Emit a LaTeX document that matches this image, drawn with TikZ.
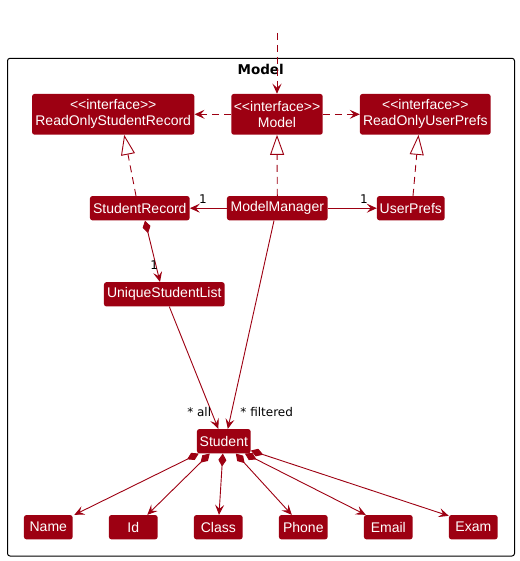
\documentclass[tikz,border=0pt]{standalone}
\usepackage{fontspec}
\setmainfont{Liberation Sans}
\newfontfamily\lblfont{DejaVu Sans}
\usetikzlibrary{arrows.meta,calc}
\definecolor{mred}{HTML}{9D0012}
\newcommand{\ifc}{{<}{<}interface{>}{>}}
\tikzset{
  cls/.style={rectangle, fill=mred, text=white, rounded corners=2.5pt, inner sep=0pt,
    minimum height=24.3pt, font=\fontsize{14}{16}\selectfont, align=center},
  iface/.style={cls, minimum height=40.7pt},
  conn/.style={draw=mred, line width=0.9pt},
  dash7/.style={dash pattern=on 7pt off 5pt},
  hd/.style={-{Stealth[length=10pt,width=9pt,inset=4pt,fill=mred]}},
  real/.style={-{Triangle[length=20pt,width=14pt,fill=white,line width=0.9pt]}},
  comp/.style={{Diamond[length=13pt,width=8pt,fill=mred]}-{Stealth[length=10pt,width=9pt,inset=4pt,fill=mred]}},
  lbl/.style={font=\lblfont\fontsize{12}{14}\selectfont, text=black, inner sep=0pt},
}
\begin{document}
\begin{tikzpicture}[x=1pt,y=-1pt]
\useasboundingbox (0,0) rectangle (519,561);
\draw[black, line width=1pt, rounded corners=2.5pt] (7.5,58.3) rectangle (514.5,556);
\node[font=\lblfont\bfseries\fontsize{13.5}{15}\selectfont, inner sep=0pt] (title) at (260.7,69) {Model};

\node[iface, minimum width=162.3pt] (rsr) at (113.2,114.3) {\ifc\\ReadOnlyStudentRecord};
\node[iface, minimum width=91.4pt] (model) at (277,114.3) {\ifc\\Model};
\node[iface, minimum width=130.7pt] (rup) at (425.3,114.3) {\ifc\\ReadOnlyUserPrefs};

\node[cls, minimum width=99.7pt] (sr) at (139.8,208.2) {StudentRecord};
\node[cls, minimum width=100.7pt] (mm) at (277.3,208.2) {ModelManager};
\node[cls, minimum width=67.7pt] (up) at (410.8,208.2) {UserPrefs};

\node[cls, minimum width=120.7pt] (usl) at (164.3,294.3) {UniqueStudentList};
\node[cls, minimum width=53.7pt] (student) at (223.8,441.2) {Student};

\node[cls, minimum width=48.7pt] (name) at (48.3,527.2) {Name};
\node[cls, minimum width=48.7pt] (id) at (133.3,527.2) {Id};
\node[cls, minimum width=48.7pt] (class) at (218.3,527.2) {Class};
\node[cls, minimum width=48.7pt] (phone) at (303.3,527.2) {Phone};
\node[cls, minimum width=48.7pt] (email) at (388.3,527.2) {Email};
\node[cls, minimum width=48.7pt] (exam) at (473.3,527.2) {Exam};

\coordinate (topin) at (277,33);
\draw[conn, dash7, hd] (topin) -- (model.north);
\draw[conn, dash7, hd] (model.west) -- (rsr.east);
\draw[conn, dash7, hd] (model.east) -- (rup.west);

\draw[conn, dash7, real] ($(sr.north)+(-3.8,0)$) -- ($(rsr.south)+(11,0)$);
\draw[conn, dash7, real] (mm.north) -- (model.south);
\draw[conn, dash7, real] ($(up.north)+(2.2,0)$) -- ($(rup.south)+(-6.8,0)$);

\draw[conn, hd] (mm.west) -- (sr.east);
\draw[conn, hd] (mm.east) -- (up.west);
\node[lbl] (l1) at (203,199.3) {1};
\node[lbl] (l2) at (364,199.3) {1};

\draw[conn, comp] ($(sr.south)+(5.2,0)$) -- ($(usl.north)+(-4.3,0)$);
\node[lbl] (l3) at (154.3,265) {1};

\draw[conn, hd] ($(usl.south)+(5,0)$) -- ($(student.north)+(-5.5,0)$);
\draw[conn, hd] ($(mm.south)+(-3.3,0)$) -- ($(student.north)+(4,0)$);
\node[lbl] (lall) at (199.2,412.3) {* all};
\node[lbl] (lfil) at (266.7,412.3) {* filtered};

\draw[conn, comp] ($(student.south west)+(2,0)$) -- ($(name.north east)+(1.5,0)$);
\draw[conn, comp] ($(student.south west)+(13,0)$) -- ($(id.north)+(14,0)$);
\draw[conn, comp] ($(student.south)+(-1,0)$) -- ($(class.north)+(0.7,0)$);
\draw[conn, comp] ($(student.south)+(12,0)$) -- ($(phone.north)+(-11.5,0)$);
\draw[conn, comp] ($(student.south east)+(-6,0)$) -- ($(email.north west)+(2,0)$);
\draw[conn, comp] ($(student.south east)+(0,-3)$) -- ($(exam.north west)+(0,1)$);
\end{tikzpicture}
\end{document}
